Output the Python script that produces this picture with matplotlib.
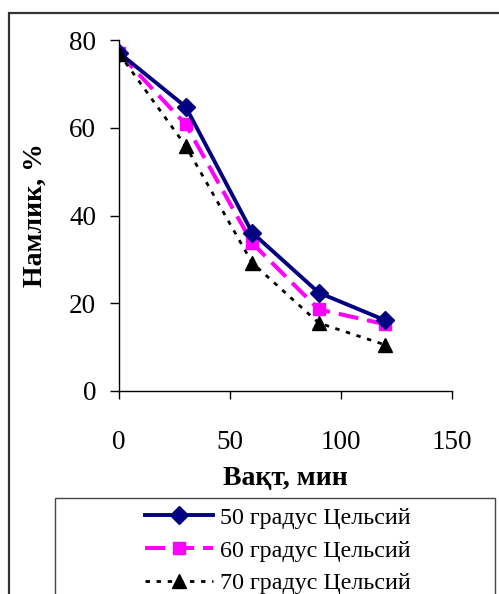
import matplotlib
matplotlib.use("Agg")
import matplotlib.pyplot as plt
from matplotlib.patches import Rectangle

plt.rcParams["font.family"] = ["Liberation Serif", "DejaVu Serif"]

# drying time, minutes
time_min = [0, 30, 60, 90, 120]

# moisture, % at each temperature
moist_50 = [77.1, 64.8, 36.1, 22.4, 16.1]
moist_60 = [77.0, 60.8, 33.7, 18.6, 15.2]
moist_70 = [76.9, 55.9, 29.2, 15.5, 10.5]

labels = ["50 градус Цельсий", "60 градус Цельсий", "70 градус Цельсий"]
x_ticks = [0, 50, 100, 150]
y_ticks = [0, 20, 40, 60, 80]

W, H = 499, 594
fig = plt.figure(figsize=(W / 100, H / 100), dpi=100)

ax = fig.add_axes([119 / W, 1 - 391 / H, (452 - 119) / W, (391 - 40) / H])

ax.plot(time_min, moist_50, color="#000080", lw=2.8, marker="D", ms=9.5,
        label=labels[0], zorder=3)
ax.plot(time_min, moist_60, color="#FF00FF", lw=2.9, ls=(0, (5, 2.2)), marker="s",
        ms=9, label=labels[1], zorder=2)
ax.plot(time_min, moist_70, color="black", lw=2.0, ls=(0, (1.6, 2.4)), marker="^",
        ms=9.5, label=labels[2], zorder=4)

ax.set_xlim(0, 150)
ax.set_ylim(0, 80)
ax.set_xticks(x_ticks)
ax.set_yticks(y_ticks)
ax.spines["top"].set_visible(False)
ax.spines["right"].set_visible(False)
for s in ("left", "bottom"):
    ax.spines[s].set_linewidth(1.0)
ax.tick_params(axis="y", direction="out", length=6.5, width=1.0, pad=10, labelsize=19.5)
ax.tick_params(axis="x", direction="out", length=6, width=1.0, pad=22, labelsize=19.5)

ax.set_xlabel("Вақт, мин", fontsize=20, fontweight="bold", labelpad=8)
ax.set_ylabel("Намлик, %", fontsize=20, fontweight="bold", labelpad=15)

# outer chart frame, cut off on the right and at the bottom
fig.add_artist(Rectangle((8.5 / W, -0.1), 1.2, 1.1 - 13.5 / H, transform=fig.transFigure,
                         fill=False, edgecolor="#333333", lw=1.6))
# legend frame
fig.add_artist(Rectangle((55 / W, -0.1), (495 - 55) / W, 0.1 + 1 - 498 / H,
                         transform=fig.transFigure, fill=False, edgecolor="#444444", lw=1.0))

handles, lbls = ax.get_legend_handles_labels()
fig.legend(handles, lbls, loc="upper center", bbox_to_anchor=(278 / W, 1 - 490 / H),
           frameon=False, fontsize=17.3, handlelength=2.8, handletextpad=0.3,
           labelspacing=0.46, borderpad=0.2)

fig.savefig("out.png", dpi=100)
